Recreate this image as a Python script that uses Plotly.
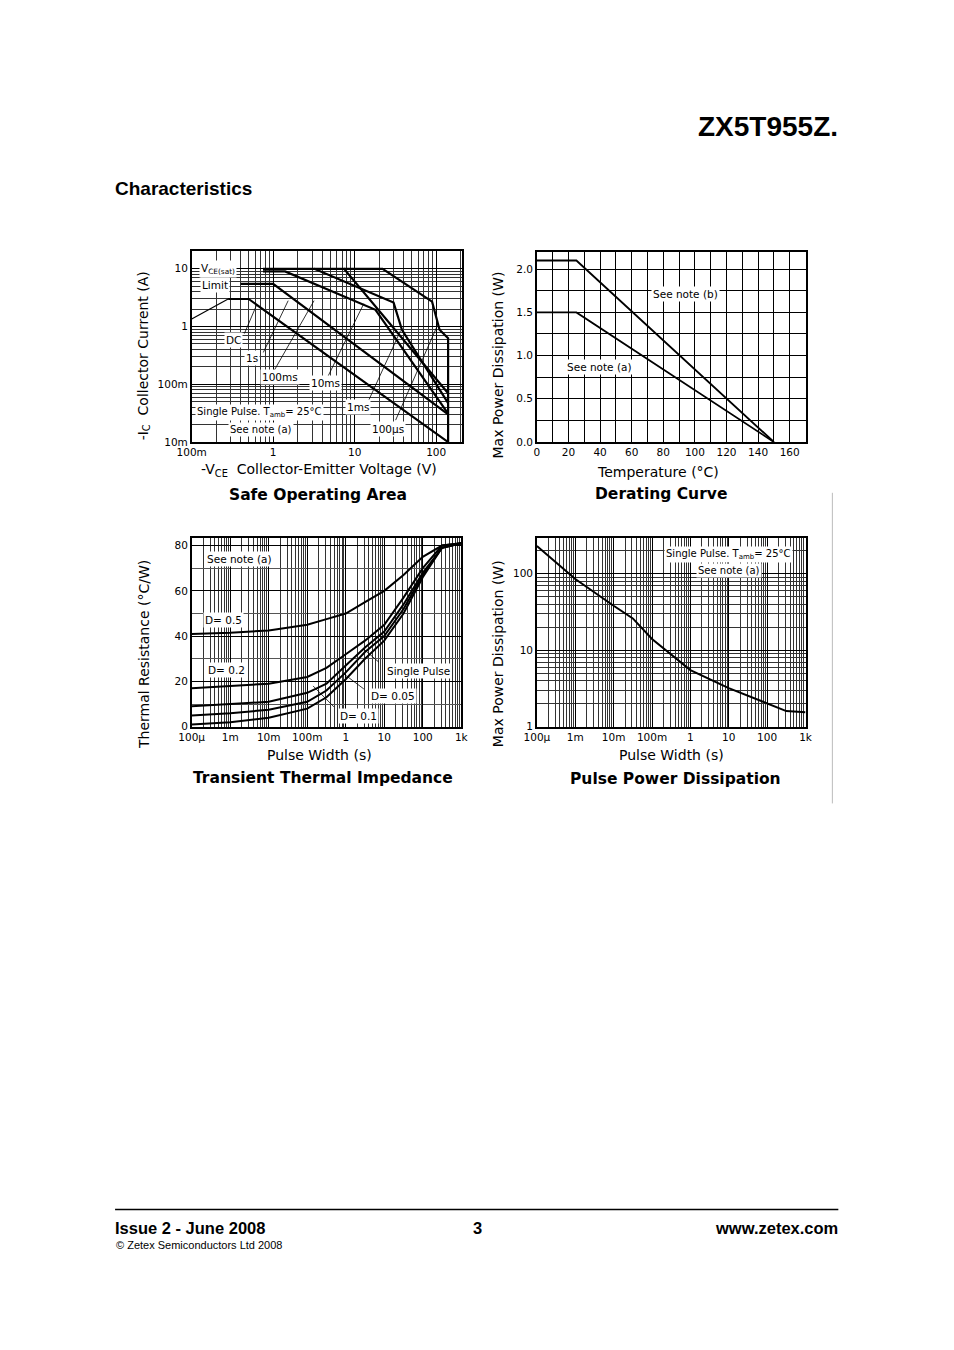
import plotly.graph_objects as go

W, H = 954, 1350

# Safe operating area: -VCE (V) vs -IC (A)
soa_limit_v = [0.1, 0.28]
soa_limit_i = [1.35, 3.0]
soa_dc_v = [0.28, 0.5, 140]
soa_dc_i = [3.0, 3.0, 0.01]
soa_1s_v = [0.4, 1.0, 140]
soa_1s_i = [5.5, 5.5, 0.03]
soa_100ms_v = [0.75, 1.4, 18, 40, 140]
soa_100ms_i = [9.0, 9.0, 1.95, 0.39, 0.031]
soa_10ms_v = [0.75, 3.2, 30, 38, 140]
soa_10ms_i = [10.0, 10.0, 2.6, 0.88, 0.047]
soa_1ms_v = [3.2, 7.4, 140]
soa_1ms_i = [10.0, 10.0, 0.07]
soa_100us_v = [7.4, 22, 89, 110, 140, 140]
soa_100us_i = [10.0, 10.0, 2.7, 0.88, 0.63, 0.01]

# Derating curve
der_t = [0, 25, 150]
der_b = [2.1, 2.1, 0.0]
der_a = [1.5, 1.5, 0.0]

# Transient thermal impedance
tw = [1e-4, 1e-3, 1e-2, 1e-1, 0.316, 1, 3.16, 10, 31.6, 100, 316, 1000]
zth_d05 = [41, 41.5, 42.5, 45, 47.5, 50, 55, 60, 67, 75, 80, 81]
zth_d02 = [17, 18, 19, 22, 26, 32, 38, 45, 57, 70, 80, 81]
zth_d01 = [9, 10, 11, 15, 19, 27, 35, 42, 54, 68, 79, 81]
zth_d005 = [5, 6, 7.5, 11, 16, 24, 33, 40, 52, 67, 79, 81]
zth_single = [1, 2, 4, 8, 13, 21, 30, 38, 50, 66, 79, 81]

# Pulse power dissipation
pp_t = [1e-4, 1e-3, 1e-2, 0.0316, 0.1, 1, 10, 100, 316, 1000]
pp_w = [230, 85, 38, 26, 14, 5.5, 3.2, 2.0, 1.6, 1.55]

FONT = "Liberation Sans"
WIDE = "DejaVu Sans"
fig = go.Figure()


# screen pixel -> paper fraction (the page comes out slightly shrunk, so undo it)
def px(x):
    return ((x - 12.4) / 0.982) / W


def py(y):
    return 1 - (y + 2) / H


def line(x, y, xa, ya, w=2.2):
    fig.add_trace(go.Scatter(x=x, y=y, mode="lines", xaxis=xa, yaxis=ya,
                             line=dict(color="black", width=w), showlegend=False))


line(soa_limit_v, soa_limit_i, "x", "y", 1.2)
for v, i in [(soa_dc_v, soa_dc_i), (soa_1s_v, soa_1s_i), (soa_100ms_v, soa_100ms_i),
             (soa_10ms_v, soa_10ms_i), (soa_1ms_v, soa_1ms_i), (soa_100us_v, soa_100us_i)]:
    line(v, i, "x", "y")
line(der_t, der_b, "x2", "y2", 1.8)
line(der_t, der_a, "x2", "y2", 1.8)
for z in [zth_d05, zth_d02, zth_d01, zth_d005, zth_single]:
    line(tw, z, "x3", "y3", 2)
line(pp_t, pp_w, "x4", "y4", 2)


def minors(lo, hi):
    return [m * 10 ** e for e in range(lo, hi) for m in range(2, 10)]


tickfont = dict(family=WIDE, size=10.5, color="black")
box = dict(showline=True, mirror=True, linecolor="black", linewidth=1.5, ticks="",
           tickfont=tickfont, zeroline=False, gridcolor="black", gridwidth=1)


def logminor(lo, hi):
    return dict(tickvals=minors(lo, hi), showgrid=True, gridcolor="#333", gridwidth=0.8, ticks="")


dec = ["100µ", "1m", "10m", "100m", "1", "10", "100", "1k"]
fig.update_layout(
    width=W, height=H, margin=dict(l=0, r=0, t=0, b=0),
    paper_bgcolor="white", plot_bgcolor="white", showlegend=False,
    font=dict(family=FONT, color="black"),
    xaxis=dict(box, type="log", range=[-1, 2.32], domain=[px(190), px(462)], anchor="y",
               tickvals=[0.1, 1, 10, 100], ticktext=["100m", "1", "10", "100"], minor=logminor(-1, 3)),
    yaxis=dict(box, type="log", range=[-2, 1.31], domain=[py(442), py(250)], anchor="x",
               tickvals=[0.01, 0.1, 1, 10], ticktext=["10m", "100m", "1", "10"], minor=logminor(-2, 2)),
    xaxis2=dict(box, range=[0, 170], domain=[px(537), px(807)], anchor="y2",
                tickvals=list(range(0, 170, 20)), minor=dict(dtick=10, showgrid=True, gridcolor="black")),
    yaxis2=dict(box, range=[0, 2.2], domain=[py(442), py(251)], anchor="x2",
                tickvals=[0, 0.5, 1, 1.5, 2], ticktext=["0.0", "0.5", "1.0", "1.5", "2.0"],
                minor=dict(dtick=0.25, showgrid=True, gridcolor="black")),
    xaxis3=dict(box, type="log", range=[-4, 3], domain=[px(190), px(461)], anchor="y3",
                tickvals=[1e-4, 1e-3, 1e-2, 0.1, 1, 10, 100, 1000], ticktext=dec, minor=logminor(-4, 3)),
    yaxis3=dict(box, range=[0, 83.5], domain=[py(728), py(538)], anchor="x3",
                tickvals=[0, 20, 40, 60, 80], minor=dict(dtick=10, showgrid=True, gridcolor="#555")),
    xaxis4=dict(box, type="log", range=[-4, 3], domain=[px(537), px(807)], anchor="y4",
                tickvals=[1e-4, 1e-3, 1e-2, 0.1, 1, 10, 100, 1000], ticktext=dec, minor=logminor(-4, 3)),
    yaxis4=dict(box, type="log", range=[0, 2.47], domain=[py(728), py(538)], anchor="x4",
                tickvals=[1, 10, 100], ticktext=["1", "10", "100"], minor=logminor(0, 3)),
)


def txt(x, y, s, size=10.5, bg=None, angle=0, xanchor="center", family=WIDE):
    fig.add_annotation(x=px(x), y=py(y), xref="paper", yref="paper", text=s, showarrow=False,
                       xanchor=xanchor, yanchor="middle", textangle=angle,
                       font=dict(family=family, size=size, color="black"),
                       bgcolor=bg, borderpad=1)


def seg(x0, y0, x1, y1):
    fig.add_shape(type="line", xref="paper", yref="paper", x0=px(x0), y0=py(y0),
                  x1=px(x1), y1=py(y1), line=dict(color="black", width=0.8))


# header / footer
txt(842, 125, "<b>ZX5T955Z.</b>", size=28, xanchor="right", family=FONT)
txt(111, 187, "<b>Characteristics</b>", size=19, xanchor="left", family=FONT)
fig.add_shape(type="line", xref="paper", yref="paper", x0=px(113), x1=px(840), y0=py(1213), y1=py(1213),
              line=dict(color="black", width=1.5))
txt(111, 1231, "<b>Issue 2 - June 2008</b>", size=16.5, xanchor="left", family=FONT)
txt(477, 1231, "<b>3</b>", size=16.5, family=FONT)
txt(842, 1231, "<b>www.zetex.com</b>", size=16.5, xanchor="right", family=FONT)
txt(112, 1249, "© Zetex Semiconductors Ltd 2008", size=11, xanchor="left", family=FONT)
fig.add_shape(type="line", xref="paper", yref="paper", x0=px(834), x1=px(834), y0=py(493), y1=py(805),
              line=dict(color="#bbb", width=1))

# SOA labels
txt(197, 268, "V<sub>CE(sat)</sub>", size=10.5, bg="white", xanchor="left")
txt(198, 284, "Limit", size=10.5, bg="white", xanchor="left")
txt(232, 340, "DC", bg="white")
txt(251, 358, "1s", bg="white")
txt(279, 377, "100ms", bg="white")
txt(325, 383, "10ms", bg="white")
txt(357, 407, "1ms", bg="white")
txt(387, 429, "100µs", bg="white")
txt(258, 412, "Single Pulse. T<sub>amb</sub>= 25°C", size=10, bg="white")
txt(260, 429, "See note (a)", size=10, bg="white")
seg(243, 333, 255, 305)
seg(262, 352, 287, 300)
seg(273, 370, 313, 300)
seg(327, 376, 363, 303)
seg(368, 400, 400, 330)
seg(395, 420, 437, 325)
txt(142, 355, "-I<sub>C</sub>  Collector Current (A)", size=14, angle=-90)
txt(318, 470, "-V<sub>CE</sub>  Collector-Emitter Voltage (V)", size=14)
txt(317, 495, "<b>Safe Operating Area</b>", size=15.5)

# Derating labels
txt(686, 293, "See note (b)", bg="white")
txt(600, 367, "See note (a)", bg="white")
txt(498, 365, "Max Power Dissipation (W)", size=14, angle=-90)
txt(659, 472, "Temperature (°C)", size=14)
txt(662, 494, "<b>Derating Curve</b>", size=15.5)

# Transient labels
txt(238, 559, "See note (a)", bg="white")
txt(222, 621, "D= 0.5", bg="white")
txt(225, 671, "D= 0.2", bg="white")
txt(418, 672, "Single Pulse", bg="white")
txt(392, 697, "D= 0.05", bg="white")
txt(358, 717, "D= 0.1", bg="white")
seg(378, 663, 363, 650)
seg(363, 690, 343, 675)
seg(333, 708, 312, 687)
txt(142, 655, "Thermal Resistance (°C/W)", size=14, angle=-90)
txt(318, 756, "Pulse Width (s)", size=14)
txt(322, 779, "<b>Transient Thermal Impedance</b>", size=15.5)

# Pulse power labels
txt(730, 555, "Single Pulse. T<sub>amb</sub>= 25°C", size=10, bg="white")
txt(730, 571, "See note (a)", size=10, bg="white")
txt(498, 655, "Max Power Dissipation (W)", size=14, angle=-90)
txt(672, 756, "Pulse Width (s)", size=14)
txt(676, 780, "<b>Pulse Power Dissipation</b>", size=15.5)

fig.write_html("out.html", config={"displayModeBar": False},
               post_script="document.body.style.margin='0';")
